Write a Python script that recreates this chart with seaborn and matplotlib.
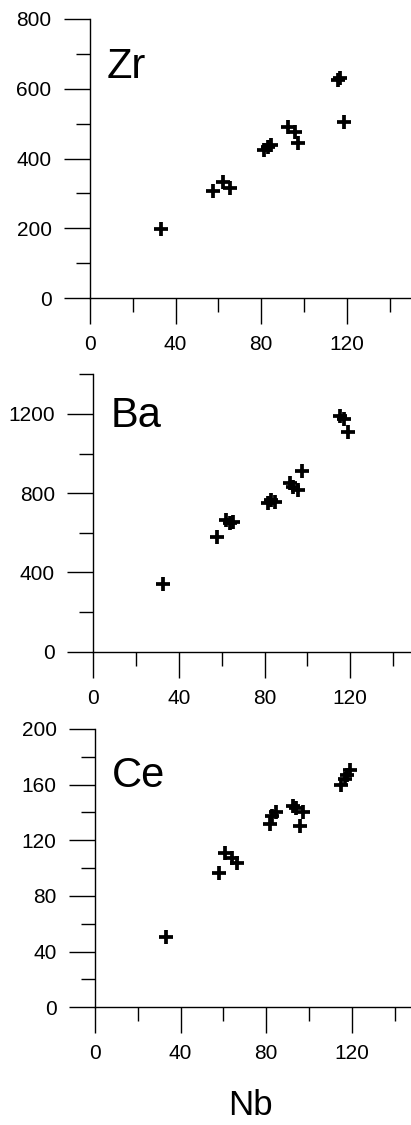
import matplotlib
matplotlib.use("Agg")
import matplotlib.pyplot as plt
import seaborn as sns
import pandas as pd
from matplotlib.ticker import MultipleLocator

# ---- data ----
nb_zr = [33, 57.5, 62.3, 65.4, 81.5, 83, 84.5, 92.7, 96, 97.3, 116, 117, 118.7]
zr = [197, 306, 333, 316, 424, 433, 440, 489, 477, 445, 624, 632, 505]

nb_ba = [32.7, 57.7, 62, 64, 65.5, 81.5, 83, 85, 91.9, 93.5, 95.5, 97.6, 115.3, 117, 119.2]
ba = [342, 581, 665, 650, 655, 748, 765, 757, 852, 833, 817, 910, 1190, 1174, 1111]

nb_ce = [33, 58, 60.8, 63.9, 66.2, 81.8, 82.6, 84.6, 92.4, 94, 97.3, 95.8, 114.8, 116.8, 117.8, 119.2]
ce = [50.3, 96.4, 111, 107, 103.8, 132, 137.5, 140.5, 145, 143.5, 140.7, 130.5, 160, 164, 167, 170.7]

panel_names = ["Zr", "Ba", "Ce"]
x_label = "Nb"
x_major = [0, 40, 80, 120]

sns.set_style("ticks")
plt.rcParams["font.family"] = ["Liberation Sans", "DejaVu Sans"]
plt.rcParams["text.color"] = "black"
plt.rcParams["axes.edgecolor"] = "black"
plt.rcParams["xtick.color"] = "black"
plt.rcParams["ytick.color"] = "black"

fig = plt.figure(figsize=(4.11, 11.25), dpi=100)
W, H = 411.0, 1125.0
pxu = 2.14  # px per Nb unit

# (left px of x=0, top px, bottom px, ylim top, major step, minor step, label baseline value)
specs = [
    (90.0, 19.0, 298.0, 800, 200, 100, 630, nb_zr, zr),
    (93.3, 374.3, 651.7, 1400, 400, 200, 1135, nb_ba, ba),
    (95.0, 729.0, 1007.3, 200, 40, 20, 158.5, nb_ce, ce),
]

for name, (x0, top, bot, ymax, maj, mnr, lab_y, xs, ys) in zip(panel_names, specs):
    left = x0 / W
    width = (W - x0) / W
    bottom = 1 - bot / H
    height = (bot - top) / H
    ax = fig.add_axes([left, bottom, width, height])
    df = pd.DataFrame({"Nb": xs, name: ys})
    sns.scatterplot(data=df, x="Nb", y=name, marker="+", s=95, color="black",
                    linewidth=2.7, ax=ax, clip_on=False, zorder=3)
    ax.set_xlim(0, (W - x0) / pxu)
    ax.set_xticks(x_major)
    ax.xaxis.set_minor_locator(MultipleLocator(20))
    ax.set_yticks(list(range(0, ymax + 1, maj)))
    ax.yaxis.set_minor_locator(MultipleLocator(mnr))
    ax.set_ylim(0, ymax)
    for s in ["top", "right"]:
        ax.spines[s].set_visible(False)
    for s in ["left", "bottom"]:
        ax.spines[s].set_linewidth(1.0)
        ax.spines[s].set_color("black")
    ax.tick_params(which="major", direction="out", length=18.7, width=1.0,
                   labelsize=15, colors="black")
    ax.tick_params(which="minor", direction="out", length=10, width=1.0,
                   colors="black")
    ax.tick_params(axis="y", which="major", pad=9)
    ax.tick_params(axis="x", which="major", pad=8)
    ax.set_xlabel("")
    ax.set_ylabel("")
    ax.text(8, lab_y, name, fontsize=30, va="baseline", ha="left", color="black")

fig.text(250 / W, 1 - 1115 / H, x_label, fontsize=25, ha="center",
         va="baseline", color="black")

fig.savefig("out.png", dpi=100)
